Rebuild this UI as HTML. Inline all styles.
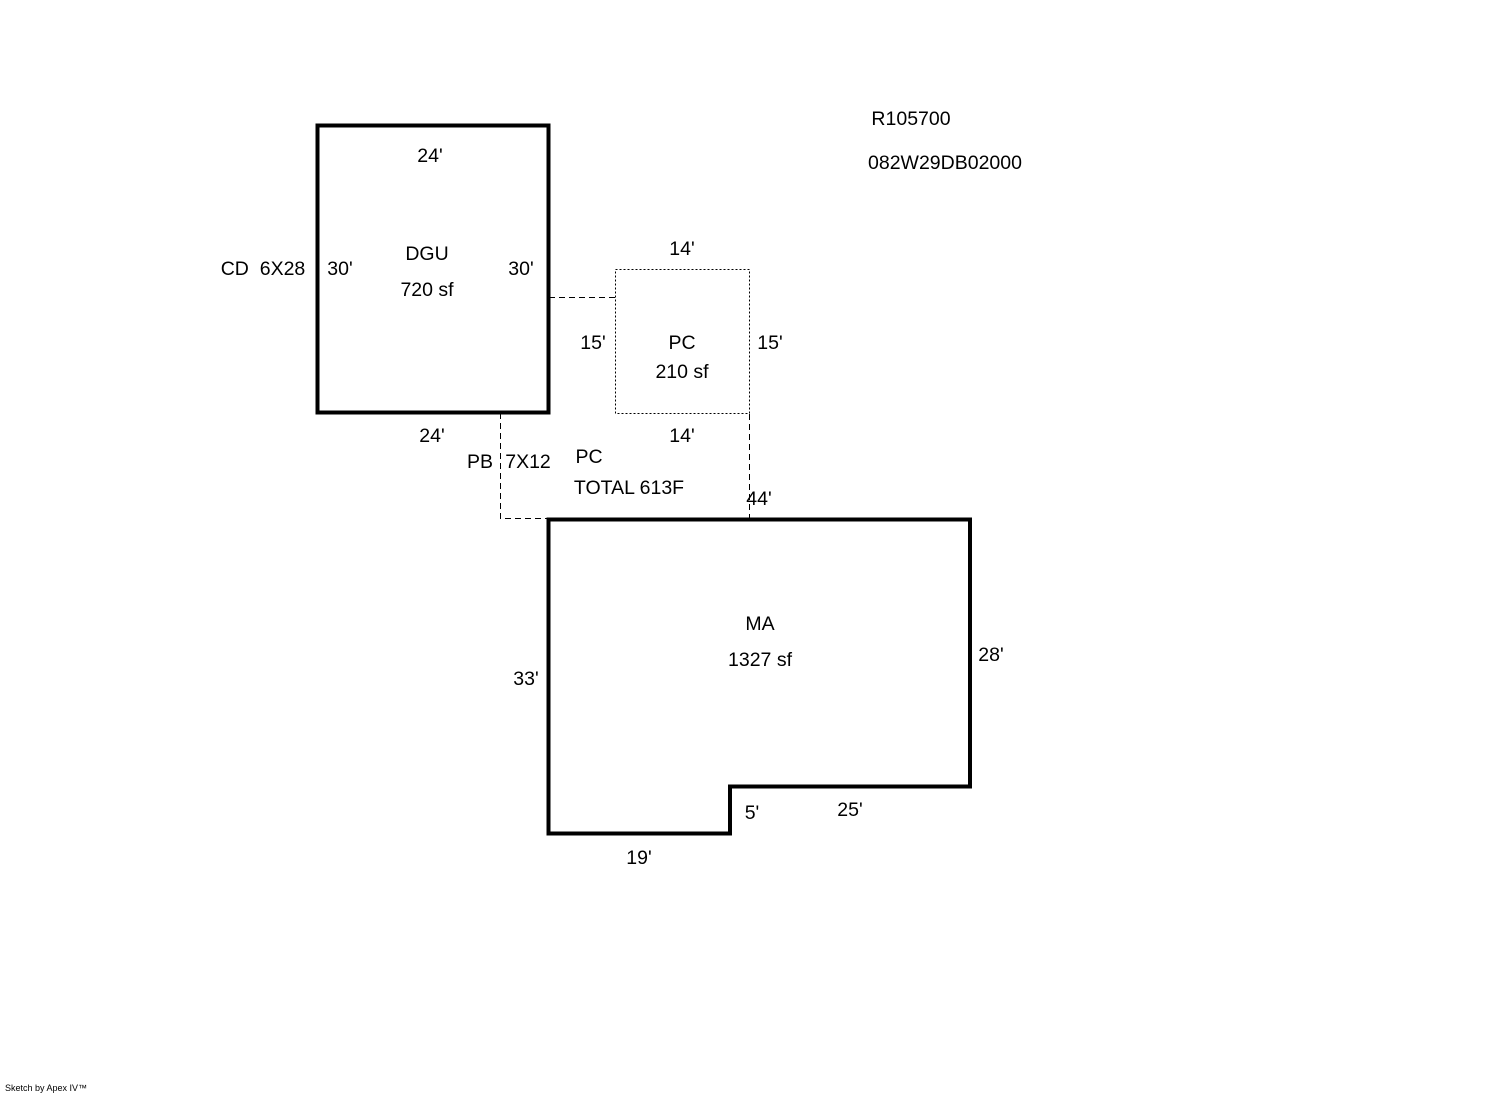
<!DOCTYPE html>
<html><head><meta charset="utf-8"><style>
html,body{margin:0;padding:0;background:#fff;}
svg{display:block;}
text{font-family:"Liberation Sans",Arial,sans-serif;font-size:19.5px;fill:#000;}
</style></head><body>
<svg width="1492" height="1094" viewBox="0 0 1492 1094" xmlns="http://www.w3.org/2000/svg">
<rect x="317.5" y="125.5" width="231" height="287" fill="none" stroke="#000" stroke-width="4"/>
<rect x="615.5" y="269.5" width="134" height="144" fill="none" stroke="#000" stroke-width="1" stroke-dasharray="2,2"/>
<line x1="549" y1="297.5" x2="615" y2="297.5" stroke="#000" stroke-width="1" stroke-dasharray="6,4"/>
<polyline points="500.5,413 500.5,518.5 548,518.5" fill="none" stroke="#000" stroke-width="1" stroke-dasharray="6,4"/>
<line x1="749.5" y1="414" x2="749.5" y2="518" stroke="#000" stroke-width="1" stroke-dasharray="6,4"/>
<polygon points="548.5,519.5 970,519.5 970,786.5 730,786.5 730,833.5 548.5,833.5" fill="none" stroke="#000" stroke-width="4"/>
<g text-anchor="middle">
<text x="430" y="162">24'</text>
<text x="427" y="260">DGU</text>
<text x="427" y="296">720 sf</text>
<text x="340" y="275">30'</text>
<text x="521" y="275">30'</text>
<text x="263" y="275" xml:space="preserve">CD  6X28</text>
<text x="432" y="442">24'</text>
<text x="682" y="255">14'</text>
<text x="593" y="349">15'</text>
<text x="770" y="349">15'</text>
<text x="682" y="349">PC</text>
<text x="682" y="378">210 sf</text>
<text x="682" y="442">14'</text>
<text x="480" y="468">PB</text>
<text x="528" y="468">7X12</text>
<text x="589" y="463">PC</text>
<text x="629" y="494">TOTAL 613F</text>
<text x="759" y="505">44'</text>
<text x="760" y="630">MA</text>
<text x="760" y="666">1327 sf</text>
<text x="526" y="685">33'</text>
<text x="991" y="661">28'</text>
<text x="752" y="819">5'</text>
<text x="850" y="816">25'</text>
<text x="639" y="864">19'</text>
<text x="911" y="125">R105700</text>
<text x="945" y="169">082W29DB02000</text>
</g>
<text x="5" y="1091" style="font-size:9px">Sketch by Apex IV™</text>
</svg>
</body></html>
